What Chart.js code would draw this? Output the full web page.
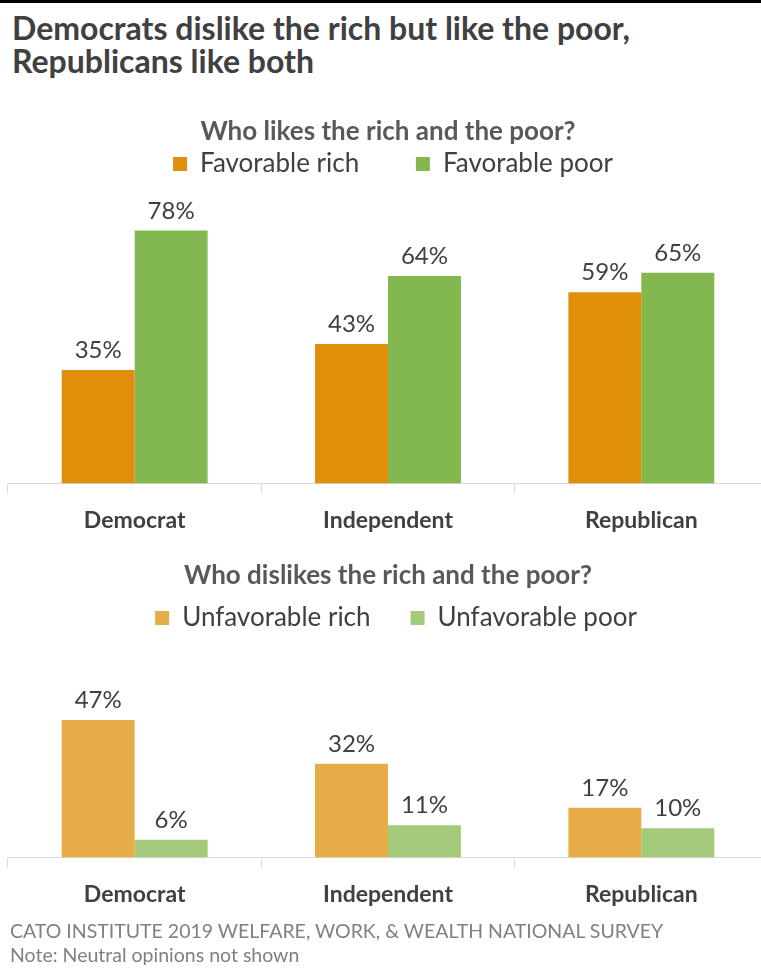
<!DOCTYPE html>
<html>
<head>
<meta charset="utf-8">
<script src="https://cdn.jsdelivr.net/npm/chart.js@4.4.1/dist/chart.umd.min.js"></script>
<style>
  html, body { margin: 0; padding: 0; background: #fff; }
  body { width: 761px; height: 970px; position: relative; overflow: hidden; font-family: Lato, sans-serif; }
  #topbar { position: absolute; left: 0; top: 0; width: 761px; height: 3px; background: #000; }
  #title { position: absolute; left: 12px; top: 11px; margin: 0; font-size: 32px; font-weight: bold; line-height: 33px; color: #404040; }
  canvas { position: absolute; left: 0; }
  #likes { top: 100px; }
  #dislikes { top: 544px; }
  #source { position: absolute; left: 10px; top: 919px; font-size: 19.5px; line-height: 24px; color: #808080; }
</style>
</head>
<body>
<div id="topbar"></div>
<h1 id="title">Democrats dislike the rich but like the poor,<br>Republicans like both</h1>
<canvas id="likes" width="790" height="447"></canvas>
<canvas id="dislikes" width="790" height="377"></canvas>
<div id="source">CATO INSTITUTE 2019 WELFARE, WORK, &amp; WEALTH NATIONAL SURVEY<br>Note: Neutral opinions not shown</div>

<script>
var categories = ['Democrat', 'Independent', 'Republican'];

var favorableRich = [35, 43, 59];
var favorablePoor = [78, 64, 65];
var unfavorableRich = [47, 32, 17];
var unfavorablePoor = [6, 11, 10];

var textColor = '#404040';
var axisColor = '#d9d9d9';

// percent labels above each bar
var valueLabels = {
	id: 'valueLabels',
	afterDatasetsDraw: function(chart) {
		var ctx = chart.ctx;
		ctx.save();
		ctx.font = '24px Lato';
		ctx.fillStyle = textColor;
		ctx.textAlign = 'center';
		ctx.textBaseline = 'alphabetic';
		chart.data.datasets.forEach(function(ds, i) {
			chart.getDatasetMeta(i).data.forEach(function(bar, j) {
				ctx.fillText(ds.data[j] + '%', bar.x, bar.y - 12);
			});
		});
		ctx.restore();
	}
};

// nudge the legend sideways, the original is not centred on the plot
var legendShift = {
	id: 'legendShift',
	afterLayout: function(chart, args, opts) {
		chart.legend.left += opts.dx;
		chart.legend.right += opts.dx;
	}
};

function makeChart(id, opts) {
	return new Chart(document.getElementById(id), {
		type: 'bar',
		data: {
			labels: categories,
			datasets: [
				{ label: opts.names[0], data: opts.first, backgroundColor: opts.colors[0], borderWidth: 0 },
				{ label: opts.names[1], data: opts.second, backgroundColor: opts.colors[1], borderWidth: 0 }
			]
		},
		plugins: [valueLabels, legendShift],
		options: {
			responsive: false,
			animation: false,
			layout: { padding: { left: 8, right: 22, top: 0, bottom: 0 } },
			datasets: { bar: { categoryPercentage: 0.576, barPercentage: 1 } },
			plugins: {
				tooltip: { enabled: false },
				legendShift: { dx: opts.legendDx },
				title: {
					display: true,
					text: opts.title,
					color: '#595959',
					font: { family: 'Lato', size: 26, weight: 'bold' },
					padding: { top: 16.4, bottom: 0 }
				},
				legend: {
					display: true,
					labels: {
						color: textColor,
						font: { family: 'Lato', size: 26 },
						boxWidth: 14,
						boxHeight: 14,
						padding: opts.legendPad,
						generateLabels: function(chart) {
							var items = Chart.defaults.plugins.legend.labels.generateLabels(chart);
							items[0].text += opts.gap;
							return items;
						}
					}
				}
			},
			scales: {
				x: {
					border: { display: true, color: axisColor, width: 1 },
					grid: { display: true, drawOnChartArea: false, drawTicks: true, tickLength: 10, color: axisColor, offset: true },
					ticks: { color: textColor, padding: 13, font: { family: 'Lato', size: 23, weight: 'bold' } }
				},
				y: { display: false, min: 0, max: opts.yMax }
			}
		}
	});
}

makeChart('likes', {
	title: 'Who likes the rich and the poor?',
	names: ['Favorable rich', 'Favorable poor'],
	first: favorableRich,
	second: favorablePoor,
	colors: ['#e08f0a', '#82b84f'],
	yMax: 91.45,
	legendPad: 3.4,
	legendDx: 5,
	gap: '        '
});

makeChart('dislikes', {
	title: 'Who dislikes the rich and the poor?',
	names: ['Unfavorable rich', 'Unfavorable poor'],
	first: unfavorableRich,
	second: unfavorablePoor,
	colors: ['#e6ac48', '#a3cb7b'],
	yMax: 74.0,
	legendPad: 13.4,
	legendDx: 8,
	gap: '    '
});
</script>
</body>
</html>
